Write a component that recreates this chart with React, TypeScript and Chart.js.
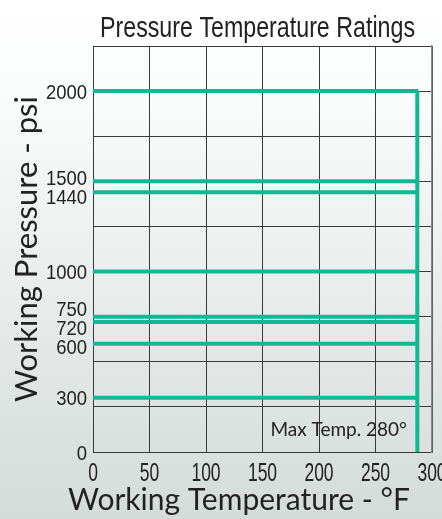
import React, { useEffect, useRef } from "react";
import { Chart, registerables } from "chart.js";

Chart.register(...registerables);

// ---- data ----
const temperatureTicks = [0, 50, 100, 150, 200, 250, 300];
const pressureTickLabels = [0, 300, 600, 720, 750, 1000, 1440, 1500, 2000];
const ratingPressures = [2000, 1500, 1440, 1000, 750, 720, 600, 300];
const ratingStartTemp = 0;
const ratingEndTemp = 288;
const maxTempLineX = 287;
const maxTempLineTop = 2000;
const gridPressureStep = 250;
const pressureMax = 2250;
const temperatureMax = 300;

const chartTitle = "Pressure Temperature Ratings";
const xTitle = "Working Temperature - °F";
const yTitle = "Working Pressure - psi";
const maxTempLabel = "Max Temp. 280°";

const GREEN = "#12b894";
const GRID = "#3a3a3a";
const TEXT = "#222";
const TICKFONT = "'Liberation Sans', Arial, sans-serif";
const GEO = "Lato, 'DejaVu Sans', sans-serif";

function drawCondensed(ctx: any, text: string, x: number, y: number, size: number, sx: number, align: string) {
  ctx.save();
  ctx.font = `${size}px ${TICKFONT}`;
  ctx.translate(x, y);
  ctx.scale(sx, 1);
  ctx.textAlign = align;
  ctx.textBaseline = "alphabetic";
  ctx.fillText(text, 0, 0);
  ctx.restore();
}

// spread label centres so they keep a minimum distance
function spreadLabels(pixels: number[], minGap: number) {
  const idx = pixels.map((p, i) => i).sort((a, b) => pixels[a] - pixels[b]);
  const pos = idx.map((i) => pixels[i]);
  for (let it = 0; it < 200; it++) {
    let moved = false;
    for (let k = 0; k < pos.length - 1; k++) {
      const gap = pos[k + 1] - pos[k];
      if (gap < minGap - 0.01) {
        const d = (minGap - gap) / 2;
        pos[k] -= d;
        pos[k + 1] += d;
        moved = true;
      }
    }
    if (!moved) break;
  }
  const out = new Array(pixels.length);
  idx.forEach((i, k) => (out[i] = pos[k]));
  return out;
}

const textPlugin = {
  id: "textPlugin",
  afterDraw(chart: any) {
    const ctx = chart.ctx;
    const area = chart.chartArea;
    const xs = chart.scales.x;
    const ys = chart.scales.y;
    ctx.save();
    ctx.fillStyle = TEXT;
    // title (condensed look)
    ctx.font = `30px ${TICKFONT}`;
    const w = ctx.measureText(chartTitle).width;
    drawCondensed(ctx, chartTitle, (area.left + area.right) / 2 - 5, 37, 30, 315 / w, "center");
    // y tick labels
    const yPix = pressureTickLabels.map((v) => ys.getPixelForValue(v));
    const yPos = spreadLabels(yPix, 19);
    pressureTickLabels.forEach((v, i) => {
      drawCondensed(ctx, String(v), area.left - 6, yPos[i] + 7.5, 21, 0.88, "right");
    });
    // x tick labels
    temperatureTicks.forEach((v) => {
      drawCondensed(ctx, String(v), xs.getPixelForValue(v), area.bottom + 29, 25, 0.7, "center");
    });
    // x title
    ctx.textAlign = "center";
    ctx.textBaseline = "alphabetic";
    ctx.font = `30px ${GEO}`;
    ctx.fillText(xTitle, area.left + 146, 510);
    // annotation
    ctx.font = `19px ${GEO}`;
    ctx.textAlign = "right";
    ctx.fillText(maxTempLabel, area.right - 25, area.bottom - 16);
    ctx.restore();
  },
};

export default function App() {
  const ref = useRef<HTMLCanvasElement>(null);

  useEffect(() => {
    document.body.style.margin = "0";
    const datasets: any[] = ratingPressures.map((p) => ({
      label: `${p} psi`,
      data: [
        { x: ratingStartTemp, y: p },
        { x: ratingEndTemp, y: p },
      ],
      borderColor: GREEN,
      backgroundColor: GREEN,
      borderWidth: 4,
      pointRadius: 0,
      showLine: true,
      yAxisID: "y",
    }));
    datasets.push({
      label: "Max temp",
      data: [
        { x: maxTempLineX, y: 0 },
        { x: maxTempLineX, y: maxTempLineTop },
      ],
      borderColor: GREEN,
      backgroundColor: GREEN,
      borderWidth: 4,
      pointRadius: 0,
      showLine: true,
      yAxisID: "y",
    });

    const chart = new Chart(ref.current!, {
      type: "scatter",
      data: { datasets },
      options: {
        animation: false,
        responsive: false,
        layout: { padding: { top: 46, right: 10, left: 0, bottom: 0 } },
        plugins: {
          legend: { display: false },
          tooltip: { enabled: false },
        },
        scales: {
          x: {
            type: "linear",
            min: 0,
            max: temperatureMax,
            afterBuildTicks: (scale: any) => {
              scale.ticks = temperatureTicks.map((v) => ({ value: v }));
            },
            afterFit: (scale: any) => {
              scale.height = 67;
              scale.paddingLeft = 0;
              scale.paddingRight = 0;
            },
            grid: { color: GRID, drawTicks: false, lineWidth: 1 },
            border: { color: GRID },
            ticks: { display: false },
          },
          y: {
            type: "linear",
            position: "left",
            min: 0,
            max: pressureMax,
            afterBuildTicks: (scale: any) => {
              scale.ticks = pressureTickLabels.map((v) => ({ value: v }));
            },
            afterFit: (scale: any) => {
              scale.width = 93;
            },
            grid: { display: false, drawTicks: false },
            border: { display: false },
            ticks: { display: false },
            title: {
              display: true,
              text: yTitle,
              color: TEXT,
              font: { family: GEO, size: 31 },
              padding: { top: 8, bottom: 0 },
            },
          },
          yGrid: {
            type: "linear",
            position: "right",
            min: 0,
            max: pressureMax,
            ticks: { display: false, stepSize: gridPressureStep },
            afterFit: (scale: any) => {
              scale.width = 0;
            },
            grid: { color: GRID, drawTicks: false, lineWidth: 1 },
            border: { color: "#888", width: 1.5 },
          },
        },
      },
      plugins: [textPlugin],
    } as any);
    return () => chart.destroy();
  }, []);

  return (
    <div
      style={{
        position: "fixed",
        left: 0,
        top: 0,
        width: 442,
        height: 519,
        background: "linear-gradient(to bottom, #ffffff 0%, #fbfcfc 18%, #d4dbd8 100%)",
      }}
    >
      <canvas ref={ref} width={442} height={519} style={{ display: "block" }} />
    </div>
  );
}
